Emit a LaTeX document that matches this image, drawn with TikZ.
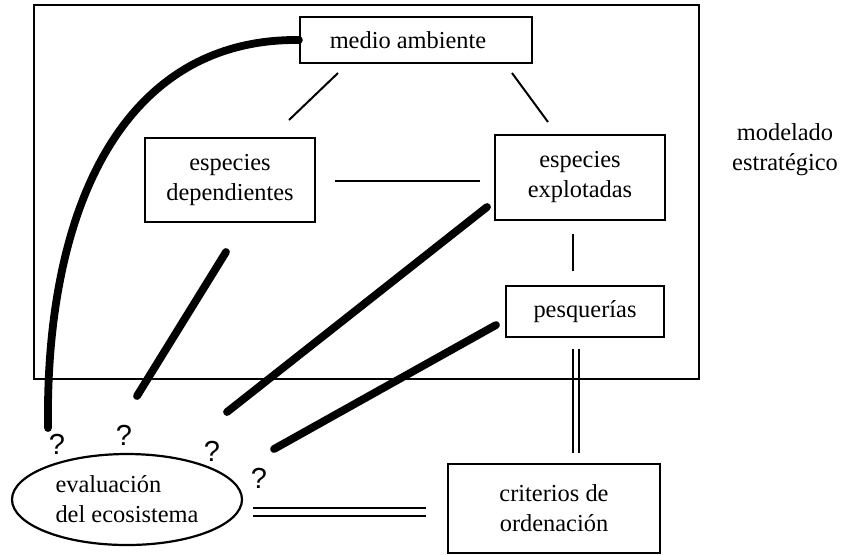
\documentclass[tikz,border=0pt]{standalone}
\usepackage{fontspec}
\setmainfont{Liberation Serif}
\newfontfamily\qfont{Liberation Sans}
\usetikzlibrary{shapes.geometric}
\begin{document}
\begin{tikzpicture}[x=0.5pt,y=-0.5pt,
  box/.style={draw,line width=1.1pt,rectangle,inner sep=0pt,align=center,
    font=\fontsize{12.2}{15}\selectfont},
  thin/.style={line width=1pt},
  thick/.style={line width=3.9pt,line cap=round},
  dbl/.style={line width=1pt},
  qm/.style={font=\qfont\fontsize{14.5}{15}\selectfont,inner sep=0pt},
  lbl/.style={align=center,font=\fontsize{12.2}{15}\selectfont,inner sep=0pt}]
\useasboundingbox (0,0) rectangle (844,554);
% frame
\draw[line width=1.2pt] (34,5) rectangle (699,379);
% nodes
\node[box,minimum width=116pt,minimum height=23pt] (medio) at (416,40) {\hspace*{-8pt}medio ambiente};
\node[box,minimum width=85pt,minimum height=42pt] (dep) at (230,180) {especies\\dependientes};
\node[box,minimum width=85pt,minimum height=42.5pt] (expl) at (580,177.5) {especies\\explotadas};
\node[box,minimum width=79pt,minimum height=25.5pt] (pesq) at (585,311.5) {pesquerías};
\node[box,minimum width=106pt,minimum height=44.5pt] (crit) at (554,508.5) {criterios de\\ordenación};
\node[draw,line width=1.1pt,ellipse,inner sep=0pt,minimum width=115pt,minimum height=45.5pt,
  align=left,font=\fontsize{12.2}{15}\selectfont] (eval) at (127,499.5) {evaluación\\del ecosistema};
\node[lbl] (model) at (785,150) {modelado\\estratégico};
% question marks
\node[qm] (q1) at (57,444) {?};
\node[qm] (q2) at (124,435) {?};
\node[qm] (q3) at (212,451) {?};
\node[qm] (q4) at (259,478) {?};
% connector end points
\coordinate (m1) at (338,73); \coordinate (d1) at (289,120);
\coordinate (m2) at (512,73); \coordinate (e1) at (548,122);
\coordinate (d2) at (335,181); \coordinate (e2) at (480,181);
\coordinate (e3) at (573,234); \coordinate (p1) at (573,271);
\coordinate (p2) at (576,349); \coordinate (c1) at (576,453);
\coordinate (v1) at (253,512); \coordinate (c2) at (426,512);
\coordinate (k1) at (48,428);
\coordinate (d3) at (226,252); \coordinate (k2) at (137,396);
\coordinate (e4) at (487,207); \coordinate (k3) at (227,412);
\coordinate (p3) at (496,325); \coordinate (k4) at (274,449);
% thin connectors
\draw[thin] (m1) -- (d1);
\draw[thin] (m2) -- (e1);
\draw[thin] (d2) -- (e2);
\draw[thin] (e3) -- (p1);
% double connectors
\draw[dbl] ([xshift=-1.6pt]p2) -- ([xshift=-1.6pt]c1);
\draw[dbl] ([xshift=1.6pt]p2) -- ([xshift=1.6pt]c1);
\draw[dbl] ([yshift=2pt]v1) -- ([yshift=2pt]c2);
\draw[dbl] ([yshift=-2pt]v1) -- ([yshift=-2pt]c2);
% thick connectors
\draw[thick] (medio.west) .. controls (125,38) and (45,205) .. (k1);
\draw[thick] (d3) -- (k2);
\draw[thick] (e4) -- (k3);
\draw[thick] (p3) -- (k4);
\end{tikzpicture}
\end{document}
